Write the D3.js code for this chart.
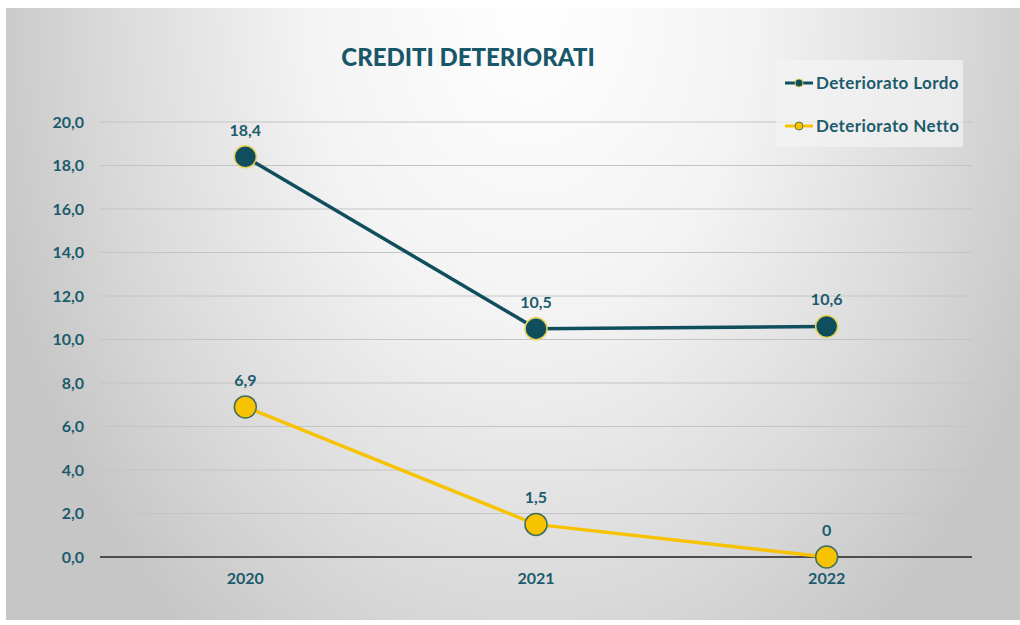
<!DOCTYPE html>
<html><head><meta charset="utf-8">
<script src="https://cdn.jsdelivr.net/npm/d3@7"></script>
<style>html,body{margin:0;padding:0;background:#fff;}svg{display:block;}</style>
</head><body>
<svg id="c" width="1020" height="625"></svg>
<script>
const years = ["2020", "2021", "2022"];
const lordo = [18.4, 10.5, 10.6];
const netto = [6.9, 1.5, 0];
const lordoLabels = ["18,4", "10,5", "10,6"];
const nettoLabels = ["6,9", "1,5", "0"];
const yTicks = [0, 2, 4, 6, 8, 10, 12, 14, 16, 18, 20];
const seriesNames = ["Deteriorato Lordo", "Deteriorato Netto"];

const svg = d3.select("#c");
const defs = svg.append("defs");
const g = defs.append("radialGradient").attr("id","bg")
  .attr("gradientUnits","userSpaceOnUse")
  .attr("cx",0).attr("cy",0).attr("r",1)
  .attr("gradientTransform","translate(530,0) scale(560,800)");
g.append("stop").attr("offset","0%").attr("stop-color","#ffffff");
g.append("stop").attr("offset","40%").attr("stop-color","#f3f3f3");
g.append("stop").attr("offset","75%").attr("stop-color","#dadada");
g.append("stop").attr("offset","100%").attr("stop-color","#c6c6c6");

svg.append("rect").attr("x",6).attr("y",8).attr("width",1014).attr("height",612).attr("fill","url(#bg)");

const dark = "#0f4e5d", gold = "#f7c200", txt = "#1b5b6c";
const font = "Lato, 'DejaVu Sans', sans-serif";

const x = d3.scaleBand().domain(years).range([100, 972]);
const y = d3.scaleLinear().domain([0, 20]).range([557, 122]);
const cx = d => x(d) + x.bandwidth()/2;

// gridlines
svg.append("g").selectAll("line").data(yTicks.filter(t=>t>0)).join("line")
  .attr("x1",100).attr("x2",972).attr("y1",d=>y(d)).attr("y2",d=>y(d))
  .attr("stroke","#c4c4c4").attr("stroke-width",1);

// y axis labels
const yAxis = d3.axisLeft(y).tickValues(yTicks).tickSize(0).tickPadding(0)
  .tickFormat(d => d3.format(".1f")(d).replace(".", ","));
const ya = svg.append("g").attr("transform","translate(84,0)").call(yAxis);
ya.select(".domain").remove();
ya.selectAll("text").attr("fill",txt).attr("font-family",font).attr("font-weight","bold").attr("font-size",16);

// baseline
svg.append("line").attr("x1",100).attr("x2",972).attr("y1",y(0)).attr("y2",y(0))
  .attr("stroke","#4d4d4d").attr("stroke-width",2);

// x axis labels
const xAxis = d3.axisBottom(x).tickSize(0).tickPadding(0);
const xa = svg.append("g").attr("transform","translate(0,573)").call(xAxis);
xa.select(".domain").remove();
xa.selectAll("text").attr("fill",txt).attr("font-family",font).attr("font-weight","bold").attr("font-size",16);

const line = d3.line().x((d,i)=>cx(years[i])).y(d=>y(d));

function drawSeries(vals, labels, lineColor, fill, stroke) {
  svg.append("path").datum(vals).attr("d",line).attr("fill","none")
    .attr("stroke",lineColor).attr("stroke-width",3.5);
  svg.append("g").selectAll("circle").data(vals).join("circle")
    .attr("cx",(d,i)=>cx(years[i])).attr("cy",d=>y(d)).attr("r",11)
    .attr("fill",fill).attr("stroke",stroke).attr("stroke-width",1.5);
  svg.append("g").selectAll("text").data(vals).join("text")
    .attr("x",(d,i)=>cx(years[i])).attr("y",d=>y(d)-21)
    .attr("text-anchor","middle").attr("fill",txt).attr("font-family",font)
    .attr("font-weight","bold").attr("font-size",16).text((d,i)=>labels[i]);
}
drawSeries(lordo, lordoLabels, dark, dark, "#e7d35a");
drawSeries(netto, nettoLabels, gold, gold, "#3f6f5c");

// title
svg.append("text").attr("x",468).attr("y",66).attr("text-anchor","middle")
  .attr("fill","#185669").attr("font-family",font).attr("font-weight","900").attr("font-size",24)
  .text("CREDITI DETERIORATI");

// legend
svg.append("rect").attr("x",776).attr("y",60).attr("width",187).attr("height",87).attr("fill","#f4f4f4").attr("opacity",0.7);
const leg = [{c:dark, f:dark, s:"#d8c94a"}, {c:gold, f:gold, s:"#5a7a50"}];
seriesNames.forEach((n,i)=>{
  const ly = 83 + i*43;
  svg.append("line").attr("x1",785).attr("x2",813).attr("y1",ly).attr("y2",ly).attr("stroke",leg[i].c).attr("stroke-width",3);
  svg.append("circle").attr("cx",799).attr("cy",ly).attr("r",4).attr("fill",leg[i].f).attr("stroke",leg[i].s).attr("stroke-width",1);
  svg.append("text").attr("x",816).attr("y",ly+6).attr("fill",txt).attr("font-family",font)
    .attr("font-weight","bold").attr("font-size",17).attr("letter-spacing",0.4).text(n);
});
</script>
</body></html>
